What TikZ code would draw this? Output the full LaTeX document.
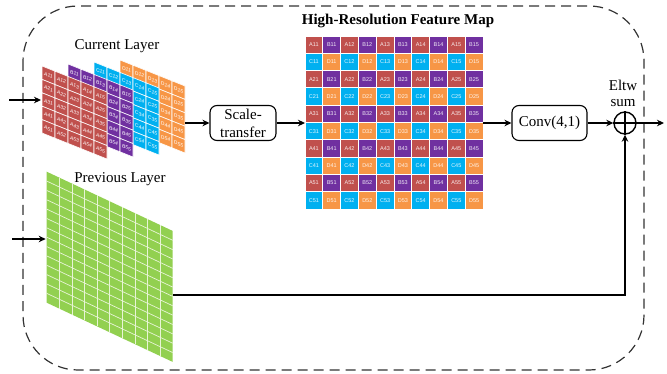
\documentclass[tikz,border=0pt]{standalone}
\usepackage{fontspec}
\setmainfont{Liberation Serif}
\newfontfamily\cellfont{Liberation Sans}
\usetikzlibrary{arrows.meta}
\definecolor{cA}{RGB}{192,80,77}
\definecolor{cB}{RGB}{112,48,160}
\definecolor{cC}{RGB}{0,176,240}
\definecolor{cD}{RGB}{247,150,70}
\definecolor{cG}{RGB}{146,208,80}
\definecolor{cGl}{RGB}{232,244,214}
\tikzset{
 arr/.style={line width=1.4pt, -{Stealth[length=7pt,width=6.5pt]}},
 procbox/.style={draw, line width=1.1pt, rounded corners=7pt, minimum height=35pt, align=center, font=\fontsize{15}{18}\selectfont, inner sep=1pt},
 lbl/.style={font=\fontsize{15}{17}\selectfont, inner sep=0},
 gcell/.style={font=\cellfont\fontsize{5.5}{6}\selectfont, text=white, text opacity=0.9, inner sep=0},
 scell/.style={font=\cellfont\itshape\fontsize{5}{6}\selectfont, text=white, inner sep=0, transform shape},
}
% #1 x, #2 y, #3 letter, #4 1 = front sheet (all labels shown)
\newcommand{\drawsheet}[4]{%
 \begin{scope}[shift={(#1,#2)}, yslant=-0.4]
  \foreach \ri in {1,...,5} \foreach \ci in {1,...,5} {
   \path[fill=c#3, draw=white, line width=0.6pt] ({(\ci-1)*13},{(\ri-1)*13.4}) rectangle ++(13,13.4);
   \pgfmathtruncatemacro\vis{or(#4>0, or(\ri==1, \ci>3))}
   \ifnum\vis=1
   \node[scell] (s#3-\ri-\ci) at ({(\ci-0.5)*13},{(\ri-0.5)*13.4}) {#3\ri\ci};
   \fi
  }
 \end{scope}}
\begin{document}
\begin{tikzpicture}[x=1pt, y=-1pt]
\useasboundingbox (0,0) rectangle (667,374);
% dashed frame
\draw[black!80, line width=1.2pt, dash pattern=on 10pt off 6pt, rounded corners=55pt] (23,6) rectangle (644,370);
% titles
\node[lbl] (curlbl) at (117,46) {Current Layer};
\node[font=\bfseries\fontsize{15}{17}\selectfont, inner sep=0] (title) at (398,21) {High-Resolution Feature Map};
% current layer stack
\drawsheet{120}{60}{D}{0}
\drawsheet{94}{62}{C}{0}
\drawsheet{68}{64}{B}{0}
\drawsheet{42}{66}{A}{1}
% previous layer
\begin{scope}[shift={(46.7,171.7)}, yslant=-0.47]
 \fill[cG] (0,0) rectangle (126,131);
 \foreach \ci in {1,...,9} \draw[cGl, line width=0.7pt] ({\ci*12.6},0) -- ++(0,131);
 \foreach \ri in {1,...,13} \draw[cGl, line width=0.7pt] (0,{\ri*131/14}) -- ++(126,0);
\end{scope}
\node[lbl] (prevlbl) at (120,179) {Previous Layer};
% high-resolution map
\node[minimum width=178pt, minimum height=173pt, inner sep=0, outer sep=0] (hr) at (394,122.5) {};
\foreach \ri in {1,...,10} \foreach \ci in {1,...,10} {
  \pgfmathtruncatemacro\ii{(\ri+1)/2}
  \pgfmathtruncatemacro\jj{(\ci+1)/2}
  \ifodd\ri \ifodd\ci \def\lt{A}\else\def\lt{B}\fi \else \ifodd\ci \def\lt{C}\else\def\lt{D}\fi\fi
  \edef\lc{\lt}
  \ifnum\ri=5 \ifnum\ci=8 \def\lt{A}\fi\fi
  \path[fill=c\lc, draw=white, line width=0.8pt] ({305+(\ci-1)*17.8},{36+(\ri-1)*17.3}) rectangle ++(17.8,17.3);
  \node[gcell] (g\ri-\ci) at ({305+(\ci-0.5)*17.8},{36+(\ri-0.5)*17.3}) {\lt\ii\jj};
}
% boxes
\node[procbox, minimum width=66pt] (st) at (243,123) {Scale-\\transfer};
\node[procbox, minimum width=75pt] (conv) at (549.5,123) {Conv(4,1)};
\node[draw, circle, line width=1.4pt, minimum size=22pt, inner sep=0] (sum) at (625,123) {};
\draw[line width=1.4pt] (sum.north) -- (sum.south) (sum.west) -- (sum.east);
\node[lbl, align=center, font=\fontsize{15}{16}\selectfont] (eltw) at (623,93) {Eltw\\sum};
% coordinates
\coordinate (src1) at (9,100);
\coordinate (stackin) at (41,100);
\coordinate (src2) at (12,239);
\coordinate (previn) at (45.7,239);
\coordinate (stackout) at (185,123);
\coordinate (prevout) at (172.7,295);
\coordinate (outp) at (664,123);
% connectors
\draw[arr] (src1) -- (stackin);
\draw[arr] (src2) -- (previn);
\draw[arr] (stackout) -- (st.west);
\draw[arr] (st.east) -- (st.east -| hr.west);
\draw[arr] (hr.east |- conv.west) -- (conv.west);
\draw[arr] (conv.east) -- (sum.west);
\draw[arr] (sum.east) -- (outp);
\draw[arr] (prevout) -| (sum.south);
\end{tikzpicture}
\end{document}
